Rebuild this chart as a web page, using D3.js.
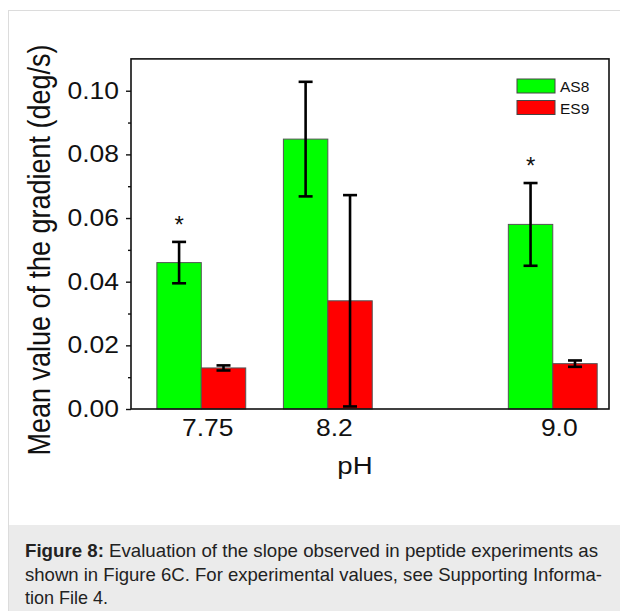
<!DOCTYPE html>
<html>
<head>
<meta charset="utf-8">
<script src="https://cdn.jsdelivr.net/npm/d3@7"></script>
<style>
  html, body { margin: 0; padding: 0; background: #fff; }
  svg { display: block; }
  text { font-family: "Liberation Sans", Arial, sans-serif; }
</style>
</head>
<body>
<svg id="chart" width="620" height="611"></svg>
<script>
// ---- data ----
const categories = ["7.75", "8.2", "9.0"];
const phValues = [7.75, 8.2, 9.0];
const as8Values = [0.046, 0.0848, 0.058];
const as8Errors = [0.0065, 0.018, 0.013];
const es9Values = [0.0129, 0.034, 0.01425];
const es9Errors = [0.0008, 0.0332, 0.001];
const significance = ["*", "", "*"];
const seriesNames = ["AS8", "ES9"];
const seriesColors = ["#00ff00", "#ff0000"];
const yMajorTicks = [0.00, 0.02, 0.04, 0.06, 0.08, 0.10];
const yMinorTicks = [0.01, 0.03, 0.05, 0.07, 0.09];
const captionLines = [
  ["Figure 8:", " Evaluation of the slope observed in peptide experiments as"],
  ["", "shown in Figure 6C. For experimental values, see Supporting Informa-"],
  ["", "tion File 4."]
];

(function () {
const svg = d3.select("#chart");
const SX = 1.15; // horizontal glyph stretch of the reference

// outer figure frame and caption
svg.append("rect").attr("x", 8.5).attr("y", 10.5).attr("width", 640).attr("height", 640)
  .attr("fill", "#fff").attr("stroke", "#dcdcdc");
svg.append("rect").attr("x", 9).attr("y", 525).attr("width", 620).attr("height", 100)
  .attr("fill", "#ebebeb");

const pLeft = 131, pRight = 609, pTop = 58.9, pBottom = 409;
const x = d3.scaleLinear().domain([7.5, 9.2]).range([pLeft, pRight]);
const y = d3.scaleLinear().domain([0, 0.11]).range([pBottom, pTop]);
const bw = 0.158;

const g = svg.append("g");

// bars
const bars = [];
phValues.forEach((p, i) => {
  bars.push({ x0: p - bw, x1: p, v: as8Values[i], e: as8Errors[i], c: seriesColors[0] });
  bars.push({ x0: p, x1: p + bw, v: es9Values[i], e: es9Errors[i], c: seriesColors[1] });
});
g.selectAll("rect.bar").data(bars).join("rect").attr("class", "bar")
  .attr("x", d => x(d.x0)).attr("width", d => x(d.x1) - x(d.x0))
  .attr("y", d => y(d.v)).attr("height", d => y(0) - y(d.v))
  .attr("fill", d => d.c).attr("stroke", "#555").attr("stroke-width", 1);

// error bars
const eb = g.selectAll("g.err").data(bars).join("g").attr("class", "err")
  .attr("stroke", "#000").attr("stroke-width", 2.6).attr("fill", "none");
eb.append("line")
  .attr("x1", d => x((d.x0 + d.x1) / 2)).attr("x2", d => x((d.x0 + d.x1) / 2))
  .attr("y1", d => y(d.v + d.e)).attr("y2", d => y(d.v - d.e));
eb.append("line")
  .attr("x1", d => x((d.x0 + d.x1) / 2) - 7).attr("x2", d => x((d.x0 + d.x1) / 2) + 7)
  .attr("y1", d => y(d.v + d.e)).attr("y2", d => y(d.v + d.e));
eb.append("line")
  .attr("x1", d => x((d.x0 + d.x1) / 2) - 7).attr("x2", d => x((d.x0 + d.x1) / 2) + 7)
  .attr("y1", d => y(d.v - d.e)).attr("y2", d => y(d.v - d.e));

// significance stars
g.selectAll("text.star").data(phValues).join("text").attr("class", "star")
  .attr("x", (p) => x(p - bw / 2))
  .attr("y", (p, i) => y(as8Values[i] + as8Errors[i]) - 9)
  .attr("text-anchor", "middle").attr("font-size", 24).attr("fill", "#111")
  .text((p, i) => significance[i]);

// frame
svg.append("rect").attr("x", pLeft).attr("y", pTop).attr("width", pRight - pLeft).attr("height", pBottom - pTop)
  .attr("fill", "none").attr("stroke", "#111").attr("stroke-width", 1.6);

// y axis (major)
const yAxis = svg.append("g").attr("transform", `translate(${pLeft},0)`)
  .call(d3.axisLeft(y).tickValues(yMajorTicks).tickSize(5).tickFormat(d3.format(".2f")));
yAxis.select(".domain").remove();
yAxis.selectAll(".tick line").attr("stroke", "#111").attr("stroke-width", 1.4);
yAxis.selectAll(".tick text").attr("x", null).attr("dy", null)
  .attr("transform", "translate(-12,7.5) scale(" + SX + ",1)")
  .attr("font-size", 23).attr("fill", "#111").attr("font-family", "Liberation Sans, Arial, sans-serif");
// y axis (minor)
const yMinor = svg.append("g").attr("transform", `translate(${pLeft},0)`)
  .call(d3.axisLeft(y).tickValues(yMinorTicks).tickSize(3).tickFormat(""));
yMinor.select(".domain").remove();
yMinor.selectAll(".tick line").attr("stroke", "#111").attr("stroke-width", 1.4);

// x axis
const xAxis = svg.append("g").attr("transform", `translate(0,${pBottom})`)
  .call(d3.axisBottom(x).tickValues(phValues).tickSize(0).tickFormat((d, i) => categories[i]));
xAxis.select(".domain").remove();
xAxis.selectAll(".tick text").attr("y", null).attr("dy", null)
  .attr("transform", "translate(6,27) scale(" + SX + ",1)")
  .attr("font-size", 23).attr("fill", "#111").attr("font-family", "Liberation Sans, Arial, sans-serif");

// axis titles
svg.append("text").attr("transform", "translate(355,474) scale(" + SX + ",1)")
  .attr("text-anchor", "middle").attr("font-size", 24).attr("fill", "#111").text("pH");
svg.append("text").attr("transform", "translate(50,250) rotate(-90) scale(1," + SX + ")")
  .attr("text-anchor", "middle").attr("font-size", 27).attr("fill", "#111")
  .text("Mean value of the gradient (deg/s)");

// legend
const leg = svg.append("g").attr("transform", "translate(517,79)");
seriesNames.forEach((n, i) => {
  leg.append("rect").attr("x", 0).attr("y", i * 21.5).attr("width", 38).attr("height", 14)
    .attr("fill", seriesColors[i]).attr("stroke", "#444").attr("stroke-width", 1);
  leg.append("text").attr("x", 43).attr("y", i * 21.5 + 13).attr("font-size", 15.5).attr("fill", "#111").text(n);
});

// caption
const capBase = [557, 580.5, 604];
const capEnd = [598, 602, 108];
captionLines.forEach((ln, i) => {
  const t = svg.append("text").attr("x", 25).attr("y", capBase[i]).attr("font-size", 18.5).attr("fill", "#222");
  if (ln[0]) t.append("tspan").attr("font-weight", "bold").text(ln[0]);
  t.append("tspan").text(ln[1]);
  t.attr("textLength", capEnd[i] - 25).attr("lengthAdjust", "spacingAndGlyphs");
});
})();
</script>
</body>
</html>
